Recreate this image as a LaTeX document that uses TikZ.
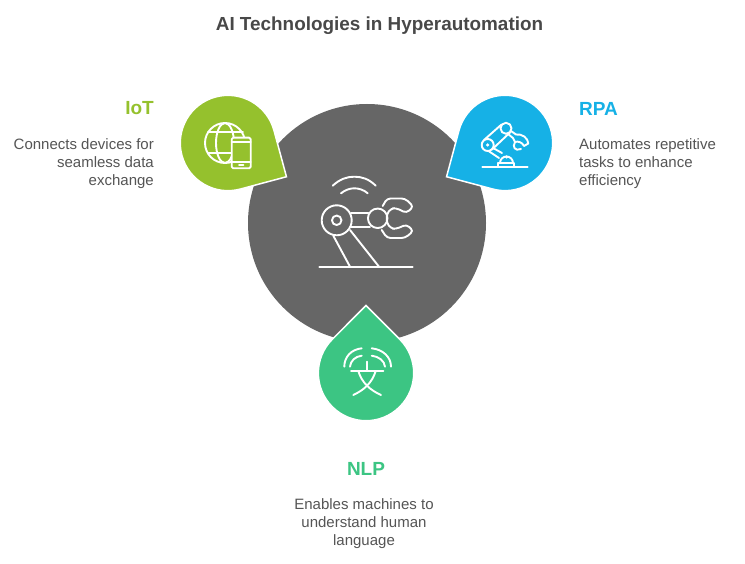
\documentclass[tikz,border=0pt]{standalone}
\usepackage{fontspec}
\setmainfont{Liberation Sans}
\definecolor{hubgray}{HTML}{666666}
\definecolor{iotgreen}{HTML}{95C12D}
\definecolor{rpablue}{HTML}{16B1E6}
\definecolor{nlpgreen}{HTML}{3CC583}
\definecolor{titlegray}{HTML}{484848}
\definecolor{bodygray}{HTML}{555555}
\tikzset{
  x=1pt,y=-1pt,
  icon/.style={draw=white,line width=1.9pt,line cap=round,line join=round},
  dropshape/.style={draw=white,line width=1.5pt,line join=miter},
  headtext/.style={font=\bfseries\fontsize{19}{22}\selectfont,inner sep=0pt},
  bodytext/.style={font=\fontsize{15}{18}\selectfont,text=bodygray,inner sep=0pt},
}
\newcommand{\dropat}[4]{% cx, cy, angle, colour
  \begin{scope}[shift={(#1,#2)},x=1pt,y=1pt,rotate=#3]
    \filldraw[dropshape,fill=#4] (67.5,0) -- (33.7,33.7) arc[start angle=45,end angle=315,radius=47.7pt] -- cycle;
  \end{scope}}
\begin{document}
\begin{tikzpicture}
\useasboundingbox[fill=white] (0,0) rectangle (745,564);
\node[circle,fill=hubgray,minimum size=238pt,inner sep=0pt] (hub) at (367,223) {};
\dropat{228}{143}{-30}{iotgreen}
\dropat{505}{143}{210}{rpablue}
\dropat{366}{373}{90}{nlpgreen}
% central icon
\node[circle,icon,minimum size=30pt,inner sep=0pt] (shoulder) at (336.7,220.3) {};
\node[circle,icon,minimum size=9.5pt,inner sep=0pt] (pivot) at (336.7,220.3) {};
\node[circle,icon,minimum size=19.5pt,inner sep=0pt] (wrist) at (377.7,218.3) {};
\coordinate (baseL) at (319.3,267.3);
\coordinate (baseR) at (412.7,267.3);
\draw[icon] (baseL) -- (baseR);
\draw[icon] (351,213.3) -- (368.3,213.3);
\draw[icon] (351,226.7) -- (370,226.7);
\draw[icon] (333.3,235.7) -- (350,266.7);
\draw[icon] (350,230) -- (379,266.7);
\draw[icon] (332.7,185.7) .. controls (340,179) and (347,176.7) .. (354.3,176.7) .. controls (362,176.7) and (369,179) .. (375.7,185.7);
\draw[icon] (341,193.3) .. controls (345,190) and (350,188.3) .. (354.3,188.3) .. controls (359,188.3) and (364,190) .. (367.7,193.3);
\draw[icon,rounded corners=3.5pt] (382.7,206) -- (387,198.5) -- (405,198.5) -- (413.5,206.5) -- (406.5,213) -- (396,208) -- (391,208.5) -- (386.7,214) -- (386.7,223) -- (391,228.5) -- (396,229) -- (406.5,224.5) -- (413.5,231) -- (405,238) -- (387,238) -- (381.7,230);
% IoT icon
\begin{scope}
\clip (200,118) rectangle (231,168) (231,118) rectangle (252,137);
\draw[icon] (225,143) circle[radius=20pt];
\draw[icon] (225,143) ellipse[x radius=9pt,y radius=20pt];
\draw[icon] (208,132.3) -- (243,132.3);
\draw[icon] (208,152.7) -- (231,152.7);
\end{scope}
\draw[icon,rounded corners=1.5pt] (231.7,137.7) rectangle (250.7,168.3);
\draw[icon] (231.7,142.3) -- (250.7,142.3);
\draw[icon] (231.7,161.7) -- (250.7,161.7);
\draw[icon] (239,165.2) -- (243.5,165.2);
% RPA icon
\draw[icon] (482.3,166.7) -- (527.7,166.7);
\draw[icon] (498,166.7) -- (498,163) -- (514,163) -- (514,166.7);
\draw[icon] (500,163) arc[start angle=180,end angle=0,radius=6.5pt];
\node[circle,fill=white,minimum size=3.5pt,inner sep=0pt] (rpadot) at (506.5,157) {};
\node[circle,icon,minimum size=12pt,inner sep=0pt] (rpaelbow) at (487.7,145) {};
\node[circle,fill=white,minimum size=3.5pt,inner sep=0pt] (rpapivot) at (487.7,145) {};
\node[circle,icon,minimum size=11pt,inner sep=0pt] (rpatop) at (506,128.3) {};
\draw[icon] (484,140) -- (501.5,124.5);
\draw[icon] (492,149.5) -- (510,132.5);
\draw[icon] (493,148) -- (502,153);
\draw[icon] (488.5,151) -- (499,158);
\draw[icon] (511,131) -- (516,134.5);
\draw[icon] (508,134) -- (513,138);
\draw[icon] (516,134.5) .. controls (522,133.5) and (528,138) .. (528.3,143.5) -- (524,146) .. controls (522,142) and (518,141) .. (515,142) -- (513,138);
\draw[icon] (515,142) .. controls (512,147) and (515,151.5) .. (521,149);
% NLP icon
\draw[icon] (351,371) -- (383.3,371);
\draw[icon] (367.3,361.7) -- (367.3,371);
\draw[icon] (358.3,371) .. controls (362,383) and (370,390) .. (381,395);
\draw[icon] (375.7,371) .. controls (372,383) and (364,390) .. (353.3,395);
\draw[icon] (344.3,366.7) .. controls (344.3,357) and (351,349.5) .. (361.7,348.3);
\draw[icon] (391,366.7) .. controls (391,357) and (383,349.5) .. (371.7,348.3);
\draw[icon] (350,366.7) .. controls (350.5,361) and (355,356.5) .. (361.7,355.7);
\draw[icon] (385,366.7) .. controls (384.5,361) and (379,356.5) .. (371.7,355.7);
% text
\node[font=\bfseries\fontsize{18.9}{22}\selectfont,text=titlegray,inner sep=0pt] (title) at (379.5,26) {AI Technologies in Hyperautomation};
\node[headtext,text=iotgreen,anchor=east] (iothead) at (154,108.5) {IoT};
\node[bodytext,anchor=north east,align=right] (iotbody) at (154,138) {Connects devices for\\seamless data\\exchange};
\node[headtext,text=rpablue,anchor=west] (rpahead) at (579,108.5) {RPA};
\node[bodytext,anchor=north west,align=left] (rpabody) at (579,138) {Automates repetitive\\tasks to enhance\\efficiency};
\node[headtext,text=nlpgreen] (nlphead) at (366,468.5) {NLP};
\node[bodytext,anchor=north,align=center] (nlpbody) at (364,498) {Enables machines to\\understand human\\language};
\end{tikzpicture}
\end{document}
